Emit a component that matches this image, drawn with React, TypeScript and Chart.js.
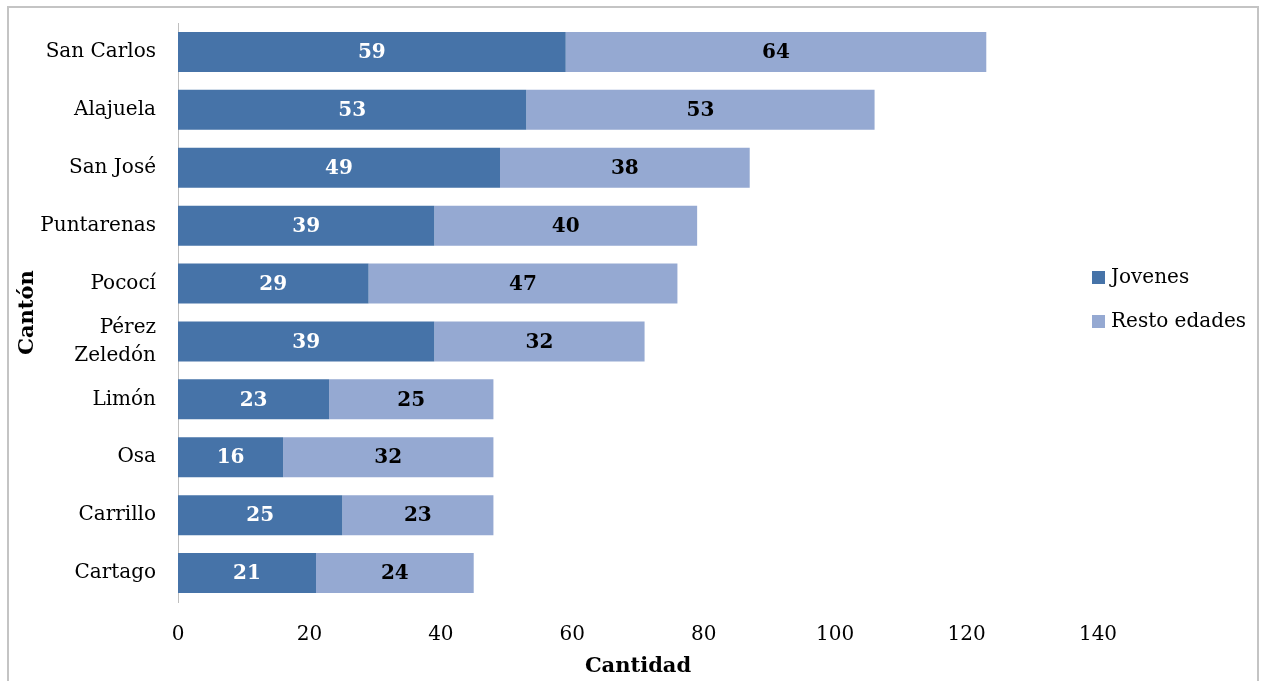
import React, { useEffect, useRef } from "react";
import { Chart, registerables } from "chart.js";

Chart.register(...registerables);

const cantones: (string | string[])[] = [
  "San Carlos",
  "Alajuela",
  "San José",
  "Puntarenas",
  "Pococí",
  ["Pérez", "Zeledón"],
  "Limón",
  "Osa",
  "Carrillo",
  "Cartago",
];
const jovenes = [59, 53, 49, 39, 29, 39, 23, 16, 25, 21];
const restoEdades = [64, 53, 38, 40, 47, 32, 25, 32, 23, 24];
const seriesNames = ["Jovenes", "Resto edades"];
const seriesColors = ["#4673A8", "#95A9D2"];
const labelColors = ["#ffffff", "#000000"];
const xMin = 0;
const xMax = 140;
const xStep = 20;
const xTitle = "Cantidad";
const yTitle = "Cantón";

const FONT = "'DejaVu Serif', serif";

const dataLabelPlugin = {
  id: "dataLabels",
  afterDatasetsDraw(chart: any) {
    const ctx = chart.ctx;
    ctx.save();
    ctx.font = `bold 20px ${FONT}`;
    ctx.textAlign = "center";
    ctx.textBaseline = "middle";
    chart.data.datasets.forEach((ds: any, di: number) => {
      const meta = chart.getDatasetMeta(di);
      meta.data.forEach((el: any, i: number) => {
        const v = ds.data[i];
        const cx = (el.x + el.base) / 2;
        ctx.fillStyle = labelColors[di];
        ctx.fillText(String(v), cx, el.y + 1);
      });
    });
    ctx.restore();
  },
};

const legendPlugin = {
  id: "customLegend",
  afterDraw(chart: any) {
    const ctx = chart.ctx;
    const area = chart.chartArea;
    const x0 = area.right - 6;
    const y0 = 277;
    const gap = 44;
    ctx.save();
    ctx.font = `20px ${FONT}`;
    ctx.textAlign = "left";
    ctx.textBaseline = "middle";
    seriesNames.forEach((name, i) => {
      const y = y0 + i * gap;
      ctx.fillStyle = seriesColors[i];
      ctx.fillRect(x0, y - 6, 13, 13);
      ctx.fillStyle = "#000000";
      ctx.fillText(name, x0 + 19, y + 1);
    });
    ctx.restore();
  },
};

export default function App() {
  const canvasRef = useRef<HTMLCanvasElement | null>(null);

  useEffect(() => {
    if (!canvasRef.current) return;
    const chart = new Chart(canvasRef.current, {
      type: "bar",
      data: {
        labels: cantones as any,
        datasets: [
          {
            label: seriesNames[0],
            data: jovenes,
            backgroundColor: seriesColors[0],
            borderWidth: 0,
            barPercentage: 0.69,
            categoryPercentage: 1,
          },
          {
            label: seriesNames[1],
            data: restoEdades,
            backgroundColor: seriesColors[1],
            borderWidth: 0,
            barPercentage: 0.69,
            categoryPercentage: 1,
          },
        ],
      },
      options: {
        indexAxis: "y",
        animation: false,
        responsive: false,
        maintainAspectRatio: false,
        layout: { padding: { left: 8, right: 163, top: 23, bottom: 0 } },
        plugins: {
          legend: { display: false },
          tooltip: { enabled: false },
          title: { display: false },
        },
        scales: {
          x: {
            type: "linear",
            stacked: true,
            min: xMin,
            max: xMax,
            ticks: {
              stepSize: xStep,
              color: "#000000",
              font: { family: FONT, size: 20 },
              padding: 21,
              autoSkip: false,
            },
            grid: { display: false, drawTicks: false },
            border: { display: false },
            title: {
              display: true,
              text: xTitle,
              color: "#000000",
              font: { family: FONT, size: 21, weight: "bold" },
              padding: { top: 0, bottom: 2 },
            },
            afterFit(scale: any) {
              scale.height = 79;
              scale.paddingLeft = 0;
              scale.paddingRight = 0;
            },
          },
          y: {
            type: "category",
            stacked: true,
            ticks: {
              color: "#000000",
              font: { family: FONT, size: 20, lineHeight: 1.4 },
              padding: 22,
              autoSkip: false,
            },
            grid: { display: false, drawTicks: false },
            border: { display: true, color: "#bfbfbf", width: 1 },
            title: {
              display: true,
              text: yTitle,
              color: "#000000",
              font: { family: FONT, size: 21, weight: "bold" },
              padding: { top: 7, bottom: 0 },
            },
            afterFit(scale: any) {
              scale.width = 170;
              scale.paddingTop = 0;
              scale.paddingBottom = 0;
            },
          },
        },
      } as any,
      plugins: [dataLabelPlugin, legendPlugin],
    });
    return () => chart.destroy();
  }, []);

  return (
    <div
      style={{
        position: "absolute",
        left: 0,
        top: 0,
        width: 1261,
        height: 681,
        overflow: "hidden",
        background: "#ffffff",
      }}
    >
      <div
        style={{
          position: "absolute",
          left: 7,
          top: 6,
          width: 1252,
          height: 720,
          border: "2px solid #c4c4c4",
          boxSizing: "border-box",
        }}
      />
      <canvas
        ref={canvasRef}
        width={1261}
        height={681}
        style={{ position: "absolute", left: 0, top: 0, width: 1261, height: 681 }}
      />
    </div>
  );
}
